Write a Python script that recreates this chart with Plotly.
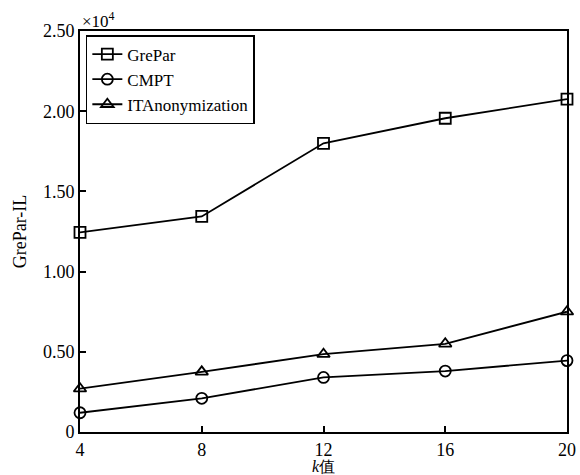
import plotly.graph_objects as go

k_values = [4, 8, 12, 16, 20]
grepar = [12440, 13440, 18000, 19560, 20750]
cmpt = [1200, 2100, 3400, 3800, 4450]
itanon = [2700, 3750, 4850, 5500, 7500]
y_tickvals = [0, 5000, 10000, 15000, 20000, 25000]
y_ticktext = ["0", "0.50", "1.00", "1.50", "2.00", "2.50"]

FONT = "Liberation Serif"

fig = go.Figure()
series = [("GrePar", grepar, "square-open"),
          ("CMPT", cmpt, "circle-open"),
          ("ITAnonymization", itanon, "triangle-up-open")]
for name, vals, sym in series:
    fig.add_trace(go.Scatter(
        x=k_values, y=vals, name=name, mode="lines+markers",
        line=dict(color="black", width=1.8),
        marker=dict(symbol=sym, size=11, color="black", line=dict(color="black", width=1.8)),
        cliponaxis=False,
    ))

fig.update_layout(
    width=580, height=475,
    margin=dict(l=80, r=13, t=31, b=43),
    paper_bgcolor="white", plot_bgcolor="white",
    font=dict(family=FONT, size=17, color="black"),
    showlegend=True,
    legend=dict(x=0.012, y=0.99, xanchor="left", yanchor="top",
                bordercolor="black", borderwidth=1.5, bgcolor="white",
                font=dict(family=FONT, size=17), tracegroupgap=0,
                itemwidth=30),
    xaxis=dict(range=[4, 20], tickvals=k_values, ticks="inside", ticklen=6,
               tickwidth=1.5, tickcolor="black", showline=True, linecolor="black",
               linewidth=2, mirror=True, showgrid=False, zeroline=False,
               automargin=False,
               tickfont=dict(family=FONT, size=18)),
    yaxis=dict(range=[0, 25000], tickvals=y_tickvals, ticktext=y_ticktext,
               ticks="inside", ticklen=6, tickwidth=1.5, tickcolor="black",
               showline=True, linecolor="black", linewidth=2, mirror=True,
               showgrid=False, zeroline=False, automargin=False,
               tickfont=dict(family=FONT, size=18),
               title=dict(text="GrePar-IL", font=dict(family=FONT, size=18), standoff=12)),
)
fig.add_annotation(text="<i>k</i>值", xref="paper", yref="paper", x=0.5, y=0,
                   xanchor="center", yanchor="top", yshift=-24, showarrow=False,
                   font=dict(family=FONT, size=16, color="black"))
fig.add_annotation(text="×10<sup>4</sup>", xref="paper", yref="paper", x=0.0, y=1.0,
                   xanchor="left", yanchor="bottom", showarrow=False, yshift=-2,
                   font=dict(family=FONT, size=17, color="black"))
fig.write_html("out.html")
